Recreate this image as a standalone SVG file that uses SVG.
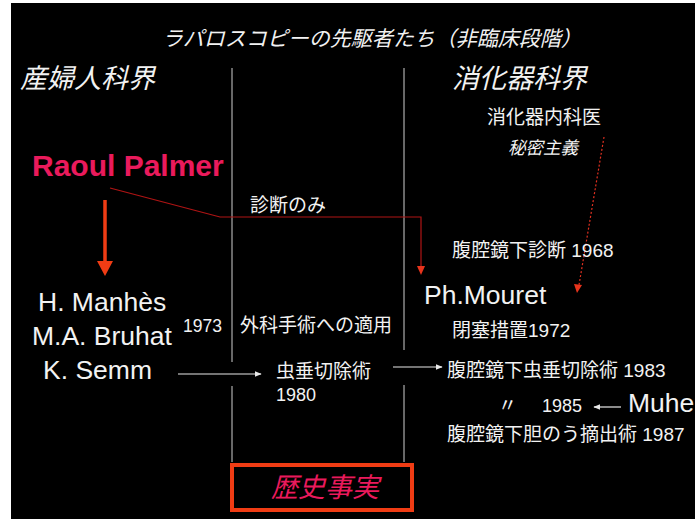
<svg xmlns="http://www.w3.org/2000/svg" width="695" height="519" viewBox="0 0 695 519">
<defs>
<style>
text{font-family:"Liberation Sans","Noto Sans CJK JP",sans-serif;fill:#f2f2f2}
.it{font-style:italic}
.lat{font-size:26.5px}
.jp{font-size:19px}
.hd{font-size:27px;font-style:italic}
.pk{fill:#ea1a5c}
.div{stroke:#cfcfcf;stroke-width:1;fill:none}
.wa{stroke:#e8e8e8;stroke-width:1.2;fill:none;marker-end:url(#wh)}
</style>
<marker id="wh" viewBox="0 0 10 10" refX="9" refY="5" markerWidth="7" markerHeight="7" markerUnits="userSpaceOnUse" orient="auto">
<path d="M0,1 L10,5 L0,9 z" fill="#e8e8e8"/>
</marker>
</defs>
<rect width="695" height="519" fill="#ffffff"/>
<rect x="11" y="3" width="684" height="516" fill="#000000"/>

<g id="dividers">
<path class="div" d="M232,68 V362 M232,386 V462 M404,68 V350 M404,385 V462"/>
</g>

<g id="connectors">
<path d="M105,200 V262" stroke="#f03c14" stroke-width="3.5" fill="none"/>
<path d="M97,261 L113,261 L105,276 z" fill="#f03c14"/>
<path d="M110,188 L220,217 H421 V268" stroke="#b01414" stroke-width="1.2" fill="none"/>
<path d="M417,266 L425,266 L421,275 z" fill="#e8341c"/>
<path d="M604,137 L579,285" stroke="#e03020" stroke-width="1.2" stroke-dasharray="2,2" fill="none"/>
<path d="M574,284 L582,285 L577,293 z" fill="#e8341c"/>
<path class="wa" d="M178,374 H261"/>
<path class="wa" d="M393,367 H442"/>
<path class="wa" d="M621,407 H594"/>
</g>

<g id="title"><text x="162" y="46" class="it" font-size="21">ラパロスコピーの先駆者たち（非臨床段階）</text></g>
<g id="gyn"><text x="20" y="88" class="hd">産婦人科界</text></g>
<g id="gastro"><text x="452" y="88" class="hd">消化器科界</text></g>
<g id="internist"><text x="487" y="124" class="jp">消化器内科医</text></g>
<g id="secrecy"><text x="508" y="154" class="it" font-size="17.5">秘密主義</text></g>
<g id="palmer"><text x="32" y="176" font-size="30" font-weight="bold" class="pk">Raoul Palmer</text></g>
<g id="diag-only"><text x="250" y="212" class="jp">診断のみ</text></g>
<g id="diag1968"><text x="452" y="257" class="jp">腹腔鏡下診断 1968</text></g>
<g id="mouret"><text x="424" y="304" class="lat">Ph.Mouret</text></g>
<g id="manhes"><text x="38" y="311" class="lat">H. Manhès</text></g>
<g id="bruhat"><text x="32" y="345" class="lat">M.A. Bruhat</text></g>
<g id="y1973"><text x="183" y="332" font-size="17.5">1973</text></g>
<g id="surgical"><text x="240" y="332" class="jp">外科手術への適用</text></g>
<g id="occlusion"><text x="452" y="337" class="jp">閉塞措置1972</text></g>
<g id="semm"><text x="43" y="379" class="lat">K. Semm</text></g>
<g id="appendectomy"><text x="276" y="378" class="jp">虫垂切除術</text><text x="276" y="401" font-size="18">1980</text></g>
<g id="lap-app"><text x="447" y="377" class="jp">腹腔鏡下虫垂切除術 1983</text></g>
<g id="y1985"><text x="498" y="412" class="jp">〃</text><text x="542" y="412" font-size="18">1985</text></g>
<g id="muhe"><text x="628" y="412" class="lat">Muhe</text></g>
<g id="chole"><text x="447" y="441" class="jp">腹腔鏡下胆のう摘出術 1987</text></g>
<g id="fact">
<rect x="232" y="465" width="180" height="45" fill="none" stroke="#f03c14" stroke-width="4"/>
<text x="271" y="497" font-size="27" class="it pk">歴史事実</text>
</g>
</svg>
